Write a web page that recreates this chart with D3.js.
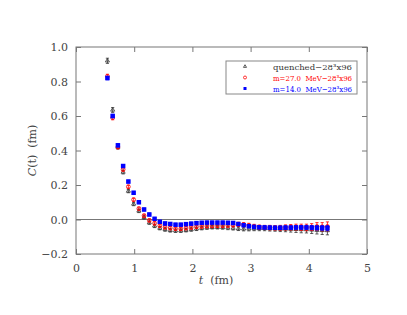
<!DOCTYPE html>
<html><head><meta charset="utf-8">
<script src="https://cdn.jsdelivr.net/npm/d3@7"></script>
<style>body{margin:0;background:#fff}svg{display:block}</style>
</head><body>
<script>
const tValues = [0.54,0.63,0.72,0.81,0.90,0.99,1.08,1.17,1.26,1.35,1.44,1.53,1.62,1.71,1.80,1.89,1.98,2.07,2.16,2.25,2.34,2.43,2.52,2.61,2.70,2.79,2.88,2.97,3.06,3.15,3.24,3.33,3.42,3.51,3.60,3.69,3.78,3.87,3.96,4.05,4.14,4.23,4.32];
const quenched = [0.92,0.635,0.42,0.275,0.165,0.09,0.05,0.012,-0.018,-0.037,-0.050,-0.058,-0.063,-0.065,-0.065,-0.062,-0.058,-0.054,-0.050,-0.047,-0.045,-0.045,-0.046,-0.048,-0.050,-0.053,-0.054,-0.054,-0.053,-0.052,-0.052,-0.053,-0.054,-0.055,-0.055,-0.056,-0.057,-0.058,-0.058,-0.060,-0.062,-0.063,-0.064];
const quenchedErr = [0.015,0.014,0.012,0.011,0.010,0.010,0.010,0.010,0.010,0.010,0.010,0.010,0.010,0.010,0.010,0.010,0.010,0.010,0.010,0.010,0.010,0.010,0.010,0.011,0.011,0.011,0.012,0.012,0.012,0.013,0.013,0.014,0.014,0.015,0.016,0.017,0.018,0.019,0.020,0.021,0.022,0.024,0.025];
const m27 = [0.83,0.59,0.42,0.29,0.19,0.115,0.063,0.022,-0.005,-0.022,-0.036,-0.045,-0.050,-0.053,-0.054,-0.050,-0.046,-0.042,-0.040,-0.038,-0.037,-0.036,-0.036,-0.034,-0.032,-0.028,-0.030,-0.034,-0.040,-0.044,-0.046,-0.047,-0.048,-0.048,-0.046,-0.045,-0.044,-0.045,-0.046,-0.044,-0.040,-0.042,-0.040];
const m27Err = [0.012,0.012,0.010,0.010,0.009,0.009,0.009,0.009,0.009,0.009,0.009,0.009,0.009,0.009,0.009,0.009,0.009,0.009,0.009,0.009,0.010,0.010,0.010,0.011,0.011,0.012,0.012,0.012,0.012,0.012,0.012,0.013,0.013,0.014,0.015,0.016,0.017,0.018,0.019,0.020,0.022,0.024,0.026];
const m14 = [0.82,0.60,0.43,0.31,0.22,0.155,0.10,0.058,0.029,0.004,-0.013,-0.023,-0.026,-0.030,-0.030,-0.027,-0.024,-0.021,-0.019,-0.018,-0.018,-0.018,-0.018,-0.019,-0.020,-0.026,-0.033,-0.039,-0.043,-0.045,-0.046,-0.047,-0.048,-0.048,-0.047,-0.047,-0.046,-0.046,-0.046,-0.047,-0.048,-0.049,-0.050];
const m14Err = [0.010,0.010,0.009,0.008,0.008,0.008,0.008,0.008,0.008,0.008,0.008,0.008,0.008,0.008,0.008,0.008,0.008,0.008,0.008,0.008,0.008,0.008,0.008,0.008,0.008,0.008,0.008,0.008,0.009,0.009,0.009,0.009,0.009,0.010,0.010,0.010,0.011,0.011,0.012,0.012,0.013,0.014,0.015];
const xTicks = [0,1,2,3,4,5];
const yTicks = [-0.2,0.0,0.2,0.4,0.6,0.8,1.0];
const legendLabels = ["quenched\u221228\u00b3x96","m=27.0  MeV\u221228\u00b3x96","m=14.0  MeV\u221228\u00b3x96"];

const W=407,H=315;
const L=76,R=367,T=47,B=254;
const svg=d3.select("body").append("svg").attr("width",W).attr("height",H);
const x=d3.scaleLinear().domain([0,5]).range([L,R]);
const y=d3.scaleLinear().domain([-0.2,1.0]).range([B,T]);
const axisCol="#777", textCol="#444";
const serif="'DejaVu Serif', serif";

svg.append("rect").attr("x",L).attr("y",T).attr("width",R-L).attr("height",B-T)
  .attr("fill","none").attr("stroke",axisCol).attr("stroke-width",1);
svg.append("line").attr("x1",L).attr("x2",R).attr("y1",y(0)).attr("y2",y(0))
  .attr("stroke",axisCol).attr("stroke-width",1);

function styleAxis(g){
  g.select(".domain").remove();
  g.selectAll(".tick line").attr("stroke",axisCol);
  g.selectAll(".tick text").attr("fill",textCol).style("font-family",serif).style("font-size","11px");
}
svg.append("g").attr("transform",`translate(0,${B})`)
  .call(d3.axisBottom(x).tickValues(xTicks).tickFormat(d3.format("d")).tickSizeInner(-5).tickSizeOuter(0).tickPadding(10))
  .call(styleAxis);
svg.append("g").attr("transform",`translate(0,${T})`)
  .call(d3.axisTop(x).tickValues(xTicks).tickFormat("").tickSizeInner(-5).tickSizeOuter(0))
  .call(styleAxis);
svg.append("g").attr("transform",`translate(${L},0)`)
  .call(d3.axisLeft(y).tickValues(yTicks).tickFormat(d=>d3.format(".1f")(d).replace("-","\u2212")).tickSizeInner(-5).tickSizeOuter(0).tickPadding(8))
  .call(styleAxis);
svg.append("g").attr("transform",`translate(${R},0)`)
  .call(d3.axisRight(y).tickValues(yTicks).tickFormat("").tickSizeInner(-5).tickSizeOuter(0))
  .call(styleAxis);

const xl=svg.append("text").attr("x",216).attr("y",284).attr("text-anchor","middle")
  .attr("fill",textCol).style("font-family",serif).style("font-size","11px").attr("xml:space","preserve");
xl.append("tspan").attr("font-style","italic").text("t");
xl.append("tspan").text("  (fm)");
const yl=svg.append("text").attr("transform",`translate(36,${(T+B)/2}) rotate(-90)`).attr("text-anchor","middle")
  .attr("fill",textCol).style("font-family",serif).style("font-size","11px").attr("xml:space","preserve");
yl.append("tspan").attr("font-style","italic").text("C");
yl.append("tspan").text("(t)  (fm)");

const series=[
  {vals:quenched,err:quenchedErr,color:"#333",shape:"tri"},
  {vals:m27,err:m27Err,color:"#ff0000",shape:"circ"},
  {vals:m14,err:m14Err,color:"#0000ff",shape:"sq"}
];
function drawSym(g,shape,color,cx,cy,s){
  if(shape==="tri"){
    g.append("path").attr("d",d3.symbol(d3.symbolTriangle,s*s*0.45)()).attr("transform",`translate(${cx},${cy})`)
      .attr("fill","none").attr("stroke",color).attr("stroke-width",0.8);
  } else if(shape==="circ"){
    g.append("circle").attr("cx",cx).attr("cy",cy).attr("r",s*0.5).attr("fill","none").attr("stroke",color).attr("stroke-width",0.8);
  } else {
    g.append("rect").attr("x",cx-s/2).attr("y",cy-s/2).attr("width",s).attr("height",s).attr("fill",color);
  }
}
series.forEach(sr=>{
  const g=svg.append("g");
  tValues.forEach((t,i)=>{
    const cx=x(t), v=sr.vals[i], e=sr.err[i];
    g.append("line").attr("x1",cx).attr("x2",cx).attr("y1",y(v-e)).attr("y2",y(v+e)).attr("stroke",sr.color).attr("stroke-width",0.8);
    [v-e,v+e].forEach(w=>g.append("line").attr("x1",cx-1.6).attr("x2",cx+1.6).attr("y1",y(w)).attr("y2",y(w)).attr("stroke",sr.color).attr("stroke-width",0.8));
    drawSym(g,sr.shape,sr.color,cx,y(v),sr.shape==="sq"?4.5:(sr.shape==="tri"?4:3.8));
  });
});

const lg=svg.append("g");
lg.append("rect").attr("x",226).attr("y",61).attr("width",131).attr("height",33)
  .attr("fill","#fff").attr("stroke","#888").attr("stroke-width",1);
const lcols=["#333","#ff0000","#0000ff"], lshapes=["tri","circ","sq"], lys=[66.5,77.5,88.5];
legendLabels.forEach((lab,i)=>{
  drawSym(lg,lshapes[i],lcols[i],245,lys[i],3);
  lg.append("text").attr("x",273).attr("y",lys[i]+3)
    .attr("textLength",79).attr("lengthAdjust","spacingAndGlyphs")
    .attr("fill",lcols[i]).style("font-family",serif).style("font-size","8px")
    .attr("xml:space","preserve").text(lab);
});
</script>
</body></html>
